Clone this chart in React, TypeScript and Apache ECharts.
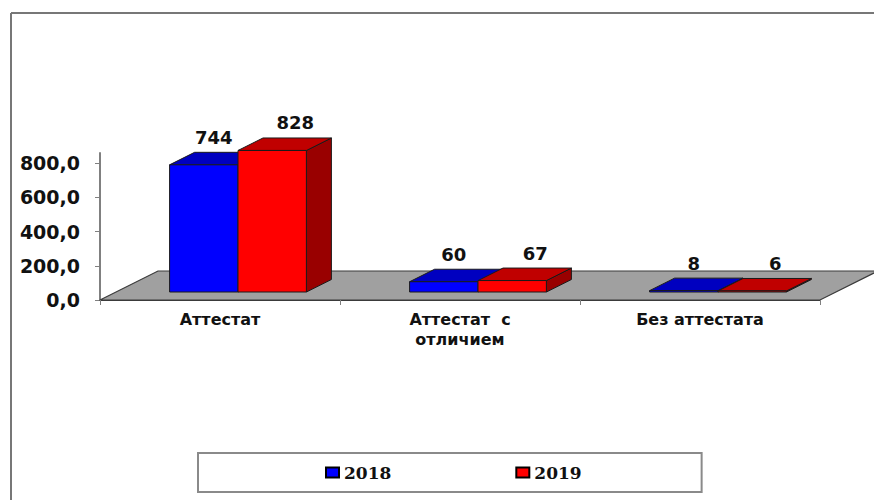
import React, { useEffect, useRef } from "react";
import * as echarts from "echarts";

const categories = ["Аттестат", "Аттестат  с\nотличием", "Без аттестата"];
const seriesNames = ["2018", "2019"];
const values2018 = [744, 60, 8];
const values2019 = [828, 67, 6];
const yTickValues = [0, 200, 400, 600, 800];

const FX = 18;
const FY = -8;
const DX = 25;
const DY = -12.5;
const FLOOR_DX = 58;
const FLOOR_DY = -29;

const labelFont = "DejaVu Sans";

function makeBarRender(slot: number, front: string, top: string, side: string, labelDx: number) {
  return (params: any, api: any) => {
    const idx = api.value(0);
    const val = api.value(1);
    const base = api.coord([idx, 0]);
    const tp = api.coord([idx, val]);
    const band = api.size([1, 0])[0];
    const bw = band * 0.285;
    const x0 = base[0] - bw + slot * bw + FX;
    const x1 = x0 + bw;
    const yb = base[1] + FY;
    const yt = tp[1] + FY;
    const stroke = { stroke: "#1a1a1a", lineWidth: 1 };
    return {
      type: "group",
      children: [
        {
          type: "polygon",
          shape: { points: [[x1, yt], [x1, yb], [x1 + DX, yb + DY], [x1 + DX, yt + DY]] },
          style: { fill: side, ...stroke },
        },
        {
          type: "polygon",
          shape: { points: [[x0, yt], [x1, yt], [x1 + DX, yt + DY], [x0 + DX, yt + DY]] },
          style: { fill: top, ...stroke },
        },
        {
          type: "rect",
          shape: { x: x0, y: yt, width: bw, height: Math.max(yb - yt, 0) },
          style: { fill: front, ...stroke },
        },
        {
          type: "text",
          style: {
            text: String(val),
            x: x0 + bw / 2 + labelDx,
            y: yt + DY - 15,
            align: "center",
            verticalAlign: "middle",
            fill: "#111",
            fontSize: 18,
            fontWeight: "bold",
            fontFamily: labelFont,
          },
        },
      ],
    };
  };
}

function floorRender(params: any, api: any) {
  const cs = params.coordSys;
  const yb = api.coord([0, 0])[1];
  const xl = cs.x;
  const xr = cs.x + cs.width;
  return {
    type: "polygon",
    shape: {
      points: [
        [xl, yb],
        [xr, yb],
        [xr + FLOOR_DX, yb + FLOOR_DY],
        [xl + FLOOR_DX, yb + FLOOR_DY],
      ],
    },
    style: { fill: "#a0a0a0", stroke: "#3a3a3a", lineWidth: 1.2 },
  };
}

export default function App() {
  const ref = useRef<HTMLDivElement>(null);
  useEffect(() => {
    document.body.style.margin = "0";
    const chart = echarts.init(ref.current!, null, { renderer: "svg" });
    chart.setOption({
      animation: false,
      backgroundColor: "#ffffff",
      grid: { left: 100, right: 54, top: 153, bottom: 200 },
      xAxis: {
        type: "category",
        data: categories,
        boundaryGap: true,
        axisLine: { show: true, lineStyle: { color: "#3a3a3a", width: 1.2 } },
        axisTick: { show: true, length: 5, lineStyle: { color: "#808080" } },
        axisLabel: {
          margin: 9,
          color: "#111",
          fontSize: 16,
          lineHeight: 20,
          fontWeight: "bold",
          fontFamily: labelFont,
          interval: 0,
        },
        z: 5,
      },
      yAxis: {
        type: "value",
        min: 0,
        max: 860,
        interval: 200,
        splitLine: { show: false },
        axisLine: { show: true, lineStyle: { color: "#808080", width: 2 } },
        axisTick: { show: true, length: 5, customValues: yTickValues, lineStyle: { color: "#808080" } },
        axisLabel: {
          customValues: yTickValues,
          margin: 20,
          color: "#111",
          fontSize: 19,
          fontWeight: "bold",
          fontFamily: labelFont,
          formatter: (v: number) => v.toFixed(1).replace(".", ","),
        },
      },
      legend: {
        data: seriesNames,
        left: 198,
        top: 453,
        orient: "horizontal",
        padding: [11, 120, 11, 127],
        itemGap: 124,
        itemWidth: 13,
        itemHeight: 10,
        icon: "rect",
        borderColor: "#8a8a8a",
        borderWidth: 2,
        textStyle: {
          color: "#111",
          fontSize: 17,
          fontWeight: "bold",
          fontFamily: "DejaVu Serif",
        },
      },
      graphic: [
        { type: "line", shape: { x1: 11, y1: 13, x2: 874, y2: 13 }, style: { stroke: "#777", lineWidth: 2 } },
        { type: "line", shape: { x1: 11, y1: 13, x2: 11, y2: 500 }, style: { stroke: "#777", lineWidth: 2 } },
      ],
      series: [
        {
          name: "floor",
          type: "custom",
          renderItem: floorRender,
          data: [[0, 0]],
          encode: { x: 0, y: 1 },
          silent: true,
          z: 1,
        },
        {
          name: seriesNames[0],
          type: "custom",
          renderItem: makeBarRender(0, "#0000ff", "#0000c0", "#000099", 10),
          data: values2018.map((v, i) => [i, v]),
          encode: { x: 0, y: 1 },
          itemStyle: { color: "#0000ff", borderColor: "#000", borderWidth: 1 },
          z: 3,
        },
        {
          name: seriesNames[1],
          type: "custom",
          renderItem: makeBarRender(1, "#ff0000", "#c00000", "#990000", 23),
          data: values2019.map((v, i) => [i, v]),
          encode: { x: 0, y: 1 },
          itemStyle: { color: "#ff0000", borderColor: "#000", borderWidth: 1 },
          z: 4,
        },
      ],
    });
    return () => chart.dispose();
  }, []);
  return <div ref={ref} style={{ width: 874, height: 500 }} />;
}
